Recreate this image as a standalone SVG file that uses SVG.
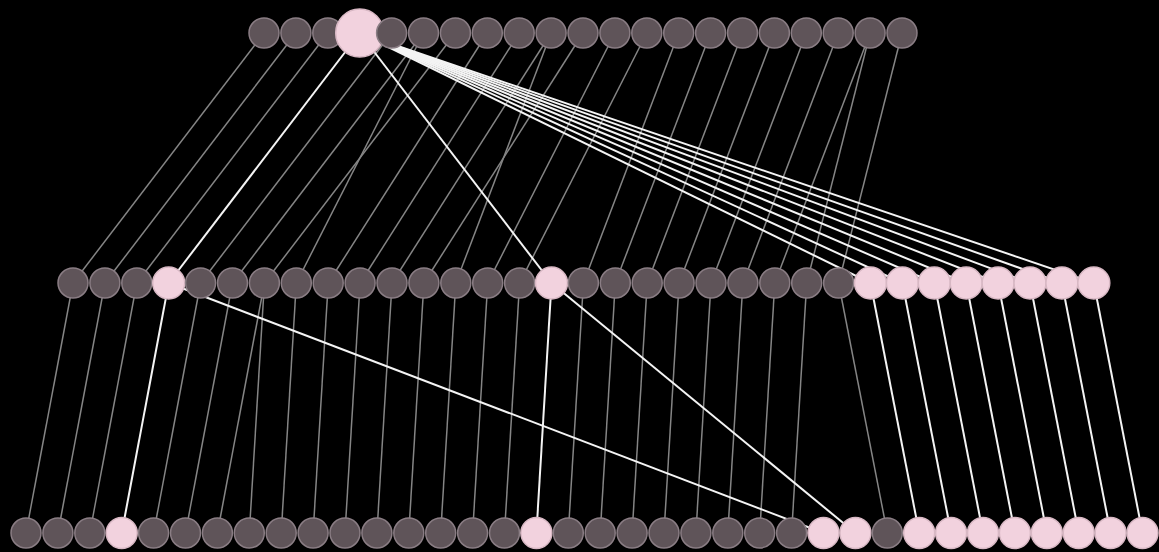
<svg xmlns="http://www.w3.org/2000/svg" width="1159" height="552" viewBox="0 0 1159 552">
<style>
.bg{fill:#000}
.e{stroke:#858585;stroke-width:1.5;fill:none}
.h{stroke:#f4f4f4;stroke-width:2;fill:none}
.g{fill:#5f5459;stroke:#8a7d84;stroke-width:1.5}
.p{fill:#f2d2de;stroke:#d8b8c4;stroke-width:1.5}
</style>
<rect class="bg" x="0" y="0" width="1159" height="552"/>
<g id="connectors">
<!-- top to middle, gray -->
<line class="e" x1="264" y1="33" x2="73" y2="283"/>
<line class="e" x1="295.9" y1="33" x2="104.9" y2="283"/>
<line class="e" x1="327.8" y1="33" x2="136.8" y2="283"/>
<line class="e" x1="391.6" y1="33" x2="200.6" y2="283"/>
<line class="e" x1="423.5" y1="33" x2="232.5" y2="283"/>
<line class="e" x1="455.4" y1="33" x2="264.4" y2="283"/>
<line class="e" x1="423.5" y1="33" x2="296.3" y2="283"/>
<line class="e" x1="487.3" y1="33" x2="328.2" y2="283"/>
<line class="e" x1="519.2" y1="33" x2="360.1" y2="283"/>
<line class="e" x1="551.1" y1="33" x2="392" y2="283"/>
<line class="e" x1="583" y1="33" x2="423.9" y2="283"/>
<line class="e" x1="551.1" y1="33" x2="455.8" y2="283"/>
<line class="e" x1="614.9" y1="33" x2="487.7" y2="283"/>
<line class="e" x1="646.8" y1="33" x2="519.6" y2="283"/>
<line class="e" x1="678.7" y1="33" x2="583.4" y2="283"/>
<line class="e" x1="710.6" y1="33" x2="615.3" y2="283"/>
<line class="e" x1="742.5" y1="33" x2="647.2" y2="283"/>
<line class="e" x1="774.4" y1="33" x2="679.1" y2="283"/>
<line class="e" x1="806.3" y1="33" x2="711" y2="283"/>
<line class="e" x1="838.2" y1="33" x2="742.9" y2="283"/>
<line class="e" x1="870.1" y1="33" x2="774.8" y2="283"/>
<line class="e" x1="870.1" y1="33" x2="806.7" y2="283"/>
<line class="e" x1="902" y1="33" x2="838.6" y2="283"/>
<!-- middle to bottom, gray -->
<line class="e" x1="73" y1="283" x2="26" y2="533"/>
<line class="e" x1="104.9" y1="283" x2="57.9" y2="533"/>
<line class="e" x1="136.8" y1="283" x2="89.8" y2="533"/>
<line class="e" x1="200.6" y1="283" x2="153.6" y2="533"/>
<line class="e" x1="232.5" y1="283" x2="185.5" y2="533"/>
<line class="e" x1="264.4" y1="283" x2="217.4" y2="533"/>
<line class="e" x1="264.4" y1="283" x2="249.3" y2="533"/>
<line class="e" x1="296.3" y1="283" x2="281.2" y2="533"/>
<line class="e" x1="328.2" y1="283" x2="313.1" y2="533"/>
<line class="e" x1="360.1" y1="283" x2="345" y2="533"/>
<line class="e" x1="392" y1="283" x2="376.9" y2="533"/>
<line class="e" x1="423.9" y1="283" x2="408.8" y2="533"/>
<line class="e" x1="455.8" y1="283" x2="440.7" y2="533"/>
<line class="e" x1="487.7" y1="283" x2="472.6" y2="533"/>
<line class="e" x1="519.6" y1="283" x2="504.5" y2="533"/>
<line class="e" x1="583.4" y1="283" x2="568.3" y2="533"/>
<line class="e" x1="615.3" y1="283" x2="600.2" y2="533"/>
<line class="e" x1="647.2" y1="283" x2="632.1" y2="533"/>
<line class="e" x1="679.1" y1="283" x2="664" y2="533"/>
<line class="e" x1="711" y1="283" x2="695.9" y2="533"/>
<line class="e" x1="742.9" y1="283" x2="727.8" y2="533"/>
<line class="e" x1="774.8" y1="283" x2="759.7" y2="533"/>
<line class="e" x1="806.7" y1="283" x2="791.6" y2="533"/>
<line class="e" x1="838.6" y1="283" x2="887.3" y2="533"/>
<!-- highlighted -->
<line class="h" x1="359.7" y1="33" x2="168.7" y2="283"/>
<line class="h" x1="359.7" y1="33" x2="551.5" y2="283"/>
<line class="h" x1="359.7" y1="33" x2="870.5" y2="283"/>
<line class="h" x1="359.7" y1="33" x2="902.4" y2="283"/>
<line class="h" x1="359.7" y1="33" x2="934.3" y2="283"/>
<line class="h" x1="359.7" y1="33" x2="966.2" y2="283"/>
<line class="h" x1="359.7" y1="33" x2="998.1" y2="283"/>
<line class="h" x1="359.7" y1="33" x2="1030" y2="283"/>
<line class="h" x1="359.7" y1="33" x2="1061.9" y2="283"/>
<line class="h" x1="359.7" y1="33" x2="1093.8" y2="283"/>
<line class="h" x1="168.7" y1="283" x2="121.7" y2="533"/>
<line class="h" x1="168.7" y1="283" x2="823.5" y2="533"/>
<line class="h" x1="551.5" y1="283" x2="536.4" y2="533"/>
<line class="h" x1="551.5" y1="283" x2="855.4" y2="533"/>
<line class="h" x1="870.5" y1="283" x2="919.2" y2="533"/>
<line class="h" x1="902.4" y1="283" x2="951.1" y2="533"/>
<line class="h" x1="934.3" y1="283" x2="983" y2="533"/>
<line class="h" x1="966.2" y1="283" x2="1014.9" y2="533"/>
<line class="h" x1="998.1" y1="283" x2="1046.8" y2="533"/>
<line class="h" x1="1030" y1="283" x2="1078.7" y2="533"/>
<line class="h" x1="1061.9" y1="283" x2="1110.6" y2="533"/>
<line class="h" x1="1093.8" y1="283" x2="1142.5" y2="533"/>
</g>
<g id="top-row">
<g id="t0"><circle class="g" cx="264" cy="33" r="15"/></g>
<g id="t1"><circle class="g" cx="295.9" cy="33" r="15"/></g>
<g id="t2"><circle class="g" cx="327.8" cy="33" r="15"/></g>
<g id="t3"><circle class="p" cx="359.7" cy="33" r="24"/></g>
<g id="t4"><circle class="g" cx="391.6" cy="33" r="15"/></g>
<g id="t5"><circle class="g" cx="423.5" cy="33" r="15"/></g>
<g id="t6"><circle class="g" cx="455.4" cy="33" r="15"/></g>
<g id="t7"><circle class="g" cx="487.3" cy="33" r="15"/></g>
<g id="t8"><circle class="g" cx="519.2" cy="33" r="15"/></g>
<g id="t9"><circle class="g" cx="551.1" cy="33" r="15"/></g>
<g id="t10"><circle class="g" cx="583" cy="33" r="15"/></g>
<g id="t11"><circle class="g" cx="614.9" cy="33" r="15"/></g>
<g id="t12"><circle class="g" cx="646.8" cy="33" r="15"/></g>
<g id="t13"><circle class="g" cx="678.7" cy="33" r="15"/></g>
<g id="t14"><circle class="g" cx="710.6" cy="33" r="15"/></g>
<g id="t15"><circle class="g" cx="742.5" cy="33" r="15"/></g>
<g id="t16"><circle class="g" cx="774.4" cy="33" r="15"/></g>
<g id="t17"><circle class="g" cx="806.3" cy="33" r="15"/></g>
<g id="t18"><circle class="g" cx="838.2" cy="33" r="15"/></g>
<g id="t19"><circle class="g" cx="870.1" cy="33" r="15"/></g>
<g id="t20"><circle class="g" cx="902" cy="33" r="15"/></g>
</g>
<g id="middle-row">
<g id="m0"><circle class="g" cx="73" cy="283" r="15"/></g>
<g id="m1"><circle class="g" cx="104.9" cy="283" r="15"/></g>
<g id="m2"><circle class="g" cx="136.8" cy="283" r="15"/></g>
<g id="m3"><circle class="p" cx="168.7" cy="283" r="16"/></g>
<g id="m4"><circle class="g" cx="200.6" cy="283" r="15"/></g>
<g id="m5"><circle class="g" cx="232.5" cy="283" r="15"/></g>
<g id="m6"><circle class="g" cx="264.4" cy="283" r="15"/></g>
<g id="m7"><circle class="g" cx="296.3" cy="283" r="15"/></g>
<g id="m8"><circle class="g" cx="328.2" cy="283" r="15"/></g>
<g id="m9"><circle class="g" cx="360.1" cy="283" r="15"/></g>
<g id="m10"><circle class="g" cx="392" cy="283" r="15"/></g>
<g id="m11"><circle class="g" cx="423.9" cy="283" r="15"/></g>
<g id="m12"><circle class="g" cx="455.8" cy="283" r="15"/></g>
<g id="m13"><circle class="g" cx="487.7" cy="283" r="15"/></g>
<g id="m14"><circle class="g" cx="519.6" cy="283" r="15"/></g>
<g id="m15"><circle class="p" cx="551.5" cy="283" r="16"/></g>
<g id="m16"><circle class="g" cx="583.4" cy="283" r="15"/></g>
<g id="m17"><circle class="g" cx="615.3" cy="283" r="15"/></g>
<g id="m18"><circle class="g" cx="647.2" cy="283" r="15"/></g>
<g id="m19"><circle class="g" cx="679.1" cy="283" r="15"/></g>
<g id="m20"><circle class="g" cx="711" cy="283" r="15"/></g>
<g id="m21"><circle class="g" cx="742.9" cy="283" r="15"/></g>
<g id="m22"><circle class="g" cx="774.8" cy="283" r="15"/></g>
<g id="m23"><circle class="g" cx="806.7" cy="283" r="15"/></g>
<g id="m24"><circle class="g" cx="838.6" cy="283" r="15"/></g>
<g id="m25"><circle class="p" cx="870.5" cy="283" r="16"/></g>
<g id="m26"><circle class="p" cx="902.4" cy="283" r="16"/></g>
<g id="m27"><circle class="p" cx="934.3" cy="283" r="16"/></g>
<g id="m28"><circle class="p" cx="966.2" cy="283" r="16"/></g>
<g id="m29"><circle class="p" cx="998.1" cy="283" r="16"/></g>
<g id="m30"><circle class="p" cx="1030" cy="283" r="16"/></g>
<g id="m31"><circle class="p" cx="1061.9" cy="283" r="16"/></g>
<g id="m32"><circle class="p" cx="1093.8" cy="283" r="16"/></g>
</g>
<g id="bottom-row">
<g id="b0"><circle class="g" cx="26" cy="533" r="15"/></g>
<g id="b1"><circle class="g" cx="57.9" cy="533" r="15"/></g>
<g id="b2"><circle class="g" cx="89.8" cy="533" r="15"/></g>
<g id="b3"><circle class="p" cx="121.7" cy="533" r="15.5"/></g>
<g id="b4"><circle class="g" cx="153.6" cy="533" r="15"/></g>
<g id="b5"><circle class="g" cx="185.5" cy="533" r="15"/></g>
<g id="b6"><circle class="g" cx="217.4" cy="533" r="15"/></g>
<g id="b7"><circle class="g" cx="249.3" cy="533" r="15"/></g>
<g id="b8"><circle class="g" cx="281.2" cy="533" r="15"/></g>
<g id="b9"><circle class="g" cx="313.1" cy="533" r="15"/></g>
<g id="b10"><circle class="g" cx="345" cy="533" r="15"/></g>
<g id="b11"><circle class="g" cx="376.9" cy="533" r="15"/></g>
<g id="b12"><circle class="g" cx="408.8" cy="533" r="15"/></g>
<g id="b13"><circle class="g" cx="440.7" cy="533" r="15"/></g>
<g id="b14"><circle class="g" cx="472.6" cy="533" r="15"/></g>
<g id="b15"><circle class="g" cx="504.5" cy="533" r="15"/></g>
<g id="b16"><circle class="p" cx="536.4" cy="533" r="15.5"/></g>
<g id="b17"><circle class="g" cx="568.3" cy="533" r="15"/></g>
<g id="b18"><circle class="g" cx="600.2" cy="533" r="15"/></g>
<g id="b19"><circle class="g" cx="632.1" cy="533" r="15"/></g>
<g id="b20"><circle class="g" cx="664" cy="533" r="15"/></g>
<g id="b21"><circle class="g" cx="695.9" cy="533" r="15"/></g>
<g id="b22"><circle class="g" cx="727.8" cy="533" r="15"/></g>
<g id="b23"><circle class="g" cx="759.7" cy="533" r="15"/></g>
<g id="b24"><circle class="g" cx="791.6" cy="533" r="15"/></g>
<g id="b25"><circle class="p" cx="823.5" cy="533" r="15.5"/></g>
<g id="b26"><circle class="p" cx="855.4" cy="533" r="15.5"/></g>
<g id="b27"><circle class="g" cx="887.3" cy="533" r="15"/></g>
<g id="b28"><circle class="p" cx="919.2" cy="533" r="15.5"/></g>
<g id="b29"><circle class="p" cx="951.1" cy="533" r="15.5"/></g>
<g id="b30"><circle class="p" cx="983" cy="533" r="15.5"/></g>
<g id="b31"><circle class="p" cx="1014.9" cy="533" r="15.5"/></g>
<g id="b32"><circle class="p" cx="1046.8" cy="533" r="15.5"/></g>
<g id="b33"><circle class="p" cx="1078.7" cy="533" r="15.5"/></g>
<g id="b34"><circle class="p" cx="1110.6" cy="533" r="15.5"/></g>
<g id="b35"><circle class="p" cx="1142.5" cy="533" r="15.5"/></g>
</g>
</svg>
